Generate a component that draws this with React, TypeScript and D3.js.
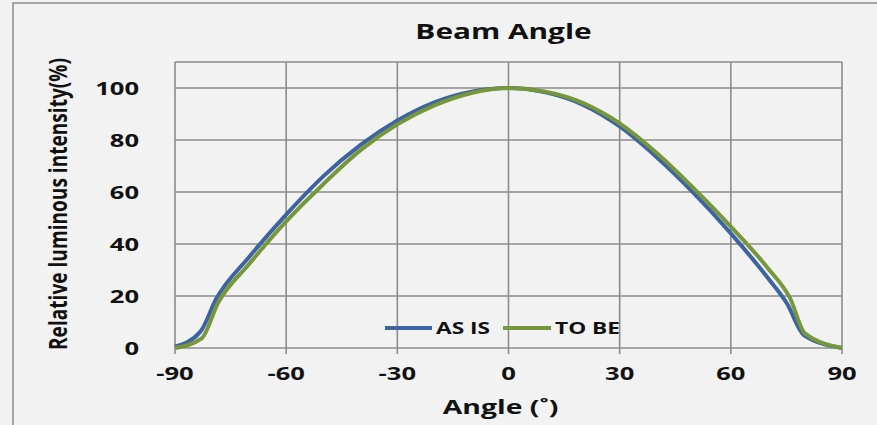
import React from "react";
import * as d3 from "d3";

const asIsAngles = [-90, -83.2, -78.8, -70, -60, -50, -40, -30, -20, -10, 0, 10, 20, 30, 40, 50, 60, 70, 75.1, 79.7, 90];
const asIsValues = [0.5, 6.2, 19.1, 35, 51.3, 66, 78, 87.5, 94.5, 98.6, 100, 98.3, 93.6, 85.2, 73.4, 59.6, 44.1, 26.9, 17.2, 5, 0];

const toBeAngles = [-90, -82.8, -78.4, -70, -60, -50, -40, -30, -20, -10, 0, 10, 20, 30, 40, 50, 60, 70, 76, 80, 90];
const toBeValues = [0, 3.7, 17.3, 32.3, 48.7, 63, 76, 86, 93.3, 98.1, 100, 98.6, 94.3, 86.4, 75, 61.4, 46.7, 30.7, 19.1, 5.6, 0];

const xTicks = [-90, -60, -30, 0, 30, 60, 90];
const yTicks = [0, 20, 40, 60, 80, 100];
const seriesNames = ["AS IS", "TO BE"];
const title = "Beam Angle";
const xLabel = "Angle (˚)";
const yLabel = "Relative luminous intensity(%)";

const W = 877;
const H = 425;
const SX = 1.42;
const FONT = "'Open Sans', 'DejaVu Sans', sans-serif";
const GRID = "#8c8c8c";
const BLUE = "#3d64a0";
const GREEN = "#77983a";

export default function App() {
  const x = d3.scaleLinear().domain([-90, 90]).range([175, 842]);
  const y = d3.scaleLinear().domain([0, 110]).range([348, 62]);

  const line = d3
    .line<[number, number]>()
    .x((d) => x(d[0]))
    .y((d) => y(d[1]))
    .curve(d3.curveMonotoneX);

  const asIs = asIsAngles.map((a, i) => [a, asIsValues[i]] as [number, number]);
  const toBe = toBeAngles.map((a, i) => [a, toBeValues[i]] as [number, number]);

  const txt = (
    key: string,
    tx: number,
    ty: number,
    s: string,
    size: number,
    anchor: string
  ) => (
    <g key={key} transform={`translate(${tx},${ty}) scale(${SX},1)`}>
      <text
        x={0}
        y={0}
        textAnchor={anchor}
        fontFamily={FONT}
        fontWeight="bold"
        fontSize={size}
        fill="#111"
      >
        {s}
      </text>
    </g>
  );

  return (
    <svg
      width={W}
      height={H}
      style={{ position: "absolute", left: 0, top: 0, background: "#f2f2f2" }}
    >
      <rect x={0} y={0} width={W} height={H} fill="#f2f2f2" />
      <rect x={13} y={3} width={W + 20} height={H + 20} fill="none" stroke={GRID} strokeWidth={1.5} />

      {/* horizontal grid */}
      {[...yTicks, 110].map((t) => (
        <line key={"h" + t} x1={x(-90)} x2={x(90)} y1={y(t)} y2={y(t)} stroke={GRID} strokeWidth={1.6} />
      ))}
      {/* vertical grid + ticks */}
      {xTicks.map((t) => (
        <line key={"v" + t} x1={x(t)} x2={x(t)} y1={y(110)} y2={y(0) + 6} stroke={GRID} strokeWidth={1.6} />
      ))}

      {/* y tick labels */}
      {yTicks.map((t) => txt("yl" + t, 139, y(t) + 6.5, String(t), 18, "end"))}
      {/* x tick labels */}
      {xTicks.map((t) => txt("xl" + t, x(t), 380, String(t), 18, "middle"))}

      {/* series */}
      <path d={line(asIs) || ""} fill="none" stroke={BLUE} strokeWidth={4} strokeLinejoin="round" />
      <path d={line(toBe) || ""} fill="none" stroke={GREEN} strokeWidth={4} strokeLinejoin="round" />

      {/* legend */}
      <line x1={385} x2={432} y1={328} y2={328} stroke={BLUE} strokeWidth={4} />
      {txt("lg1", 436, 333.5, seriesNames[0], 16, "start")}
      <line x1={503} x2={551} y1={328} y2={328} stroke={GREEN} strokeWidth={4} />
      {txt("lg2", 555, 333.5, seriesNames[1], 16, "start")}

      {/* title and axis labels */}
      {txt("title", 503.5, 38.5, title, 21, "middle")}
      {txt("xlab", 500.5, 413.5, xLabel, 20, "middle")}
      <g transform={`translate(67,204) scale(${SX},1) rotate(-90)`}>
        <text
          x={0}
          y={0}
          textAnchor="middle"
          fontFamily={FONT}
          fontWeight="bold"
          fontSize={18}
          fill="#111"
          textLength={292}
          lengthAdjust="spacingAndGlyphs"
        >
          {yLabel}
        </text>
      </g>
    </svg>
  );
}
